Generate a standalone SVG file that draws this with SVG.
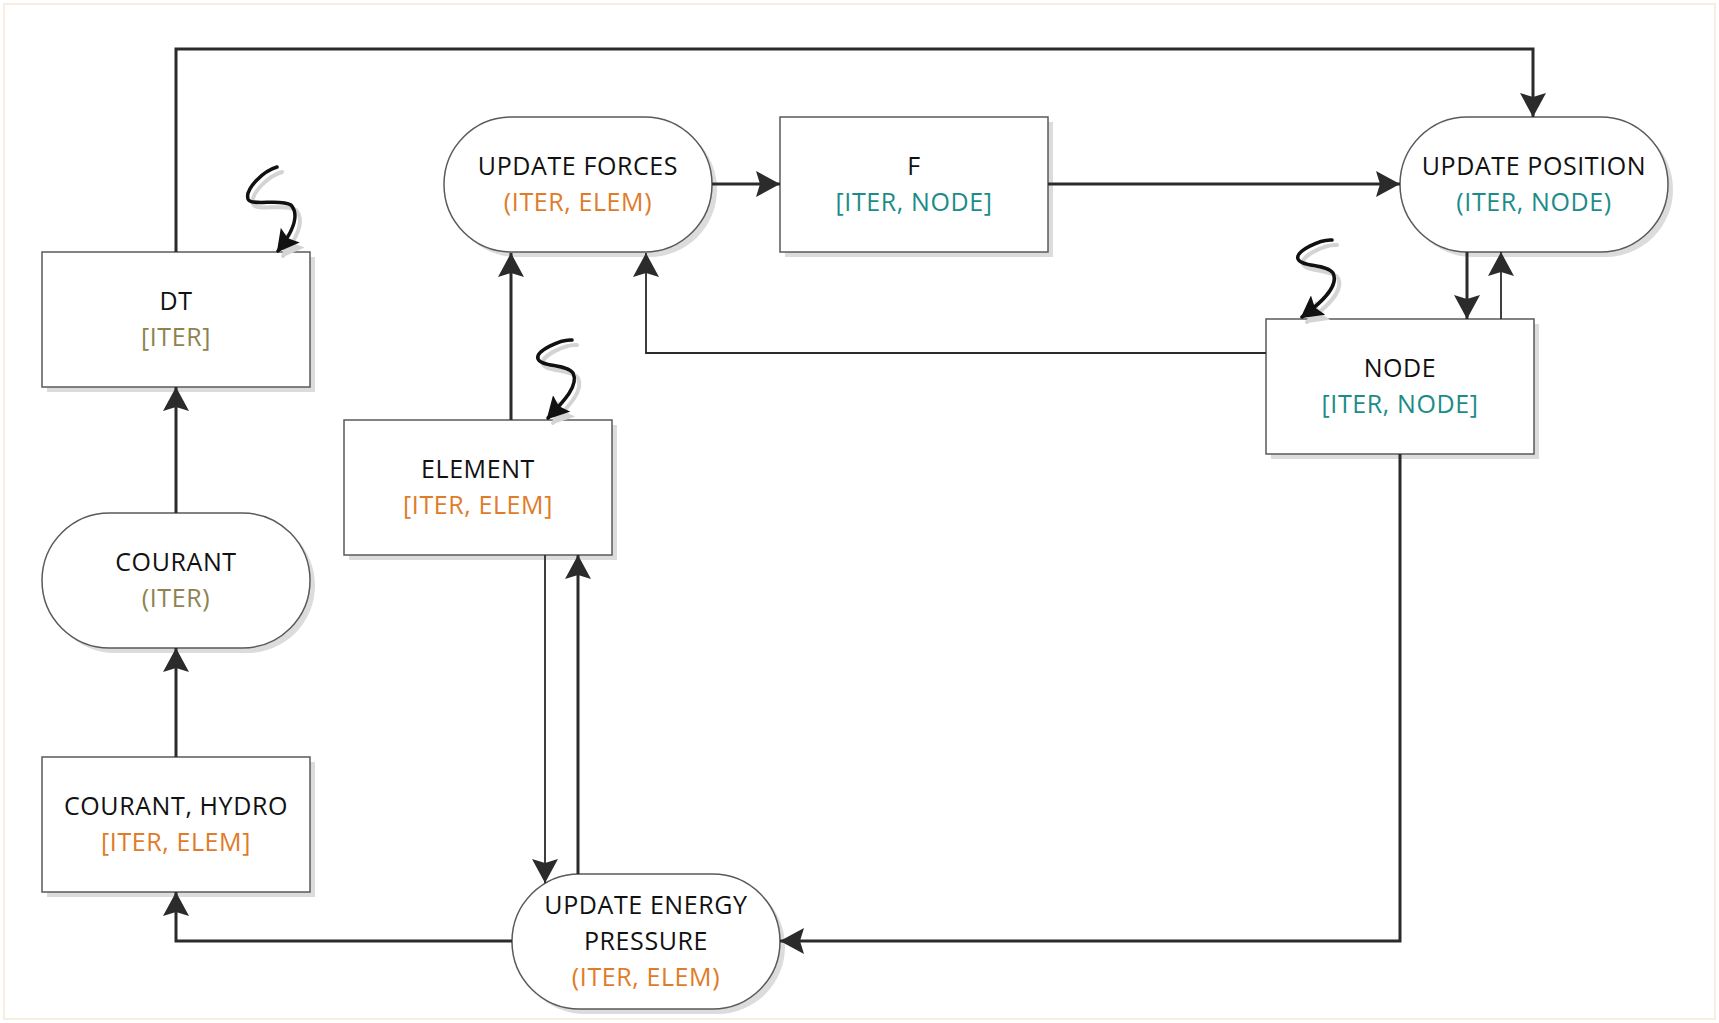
<svg xmlns="http://www.w3.org/2000/svg" width="1719" height="1023" viewBox="0 0 1719 1023">
<style>
  .box { fill:#ffffff; stroke:#5a5a5a; stroke-width:1.5; }
  .shadow { fill:#dcdcdc; stroke:none; }
  .t { font-family:"Open Sans","Noto Sans",sans-serif; font-size:25px; letter-spacing:0.6px; text-anchor:middle; fill:#111111; }
  .or { fill:#E07B28; }
  .te { fill:#1B8C89; }
  .ol { fill:#8E8350; }
  .thick { fill:none; stroke:#2b2b2b; stroke-width:3; }
  .thin { fill:none; stroke:#2b2b2b; stroke-width:1.8; }
  .sq { fill:none; stroke:#111111; stroke-width:3.5; stroke-linecap:round; }
  .sqs { fill:none; stroke:#d4d4d4; stroke-width:4; stroke-linecap:round; }
</style>
<defs>
  <marker id="arr" viewBox="0 0 24 26" refX="24" refY="13" markerWidth="24" markerHeight="26" markerUnits="userSpaceOnUse" orient="auto">
    <path d="M0,0 L24,13 L0,26 L4,13 z" fill="#2b2b2b"/>
  </marker>
  <marker id="sqa" viewBox="0 0 22 24" refX="20" refY="12" markerWidth="22" markerHeight="24" markerUnits="userSpaceOnUse" orient="auto">
    <path d="M0,0 L22,12 L0,24 L4,12 z" fill="#111111"/>
  </marker>
  <marker id="sqas" viewBox="0 0 22 24" refX="20" refY="12" markerWidth="22" markerHeight="24" markerUnits="userSpaceOnUse" orient="auto">
    <path d="M0,0 L22,12 L0,24 L4,12 z" fill="#d4d4d4"/>
  </marker>
</defs>
<rect x="0" y="0" width="1719" height="1023" fill="#ffffff"/>
<rect x="4" y="4" width="1711" height="1015" fill="none" stroke="#f6e7d5" stroke-width="1.5"/>

<g id="node-dt">
  <rect class="shadow" x="47" y="257" width="268" height="135"/>
  <rect class="box" x="42" y="252" width="268" height="135"/>
  <text class="t" x="176" y="310">DT</text>
  <text class="t ol" x="176" y="346">[ITER]</text>
</g>
<g id="node-courant">
  <rect class="shadow" x="47" y="518" width="268" height="135" rx="67.5"/>
  <rect class="box" x="42" y="513" width="268" height="135" rx="67.5"/>
  <text class="t" x="176" y="571">COURANT</text>
  <text class="t ol" x="176" y="607">(ITER)</text>
</g>
<g id="node-courant-hydro">
  <rect class="shadow" x="47" y="762" width="268" height="135"/>
  <rect class="box" x="42" y="757" width="268" height="135"/>
  <text class="t" x="176" y="815">COURANT, HYDRO</text>
  <text class="t or" x="176" y="851">[ITER, ELEM]</text>
</g>
<g id="node-update-forces">
  <rect class="shadow" x="449" y="122" width="268" height="135" rx="67.5"/>
  <rect class="box" x="444" y="117" width="268" height="135" rx="67.5"/>
  <text class="t" x="578" y="175">UPDATE FORCES</text>
  <text class="t or" x="578" y="211">(ITER, ELEM)</text>
</g>
<g id="node-f">
  <rect class="shadow" x="785" y="122" width="268" height="135"/>
  <rect class="box" x="780" y="117" width="268" height="135"/>
  <text class="t" x="914" y="175">F</text>
  <text class="t te" x="914" y="211">[ITER, NODE]</text>
</g>
<g id="node-update-position">
  <rect class="shadow" x="1405" y="122" width="268" height="135" rx="67.5"/>
  <rect class="box" x="1400" y="117" width="268" height="135" rx="67.5"/>
  <text class="t" x="1534" y="175">UPDATE POSITION</text>
  <text class="t te" x="1534" y="211">(ITER, NODE)</text>
</g>
<g id="node-node">
  <rect class="shadow" x="1271" y="324" width="268" height="135"/>
  <rect class="box" x="1266" y="319" width="268" height="135"/>
  <text class="t" x="1400" y="377">NODE</text>
  <text class="t te" x="1400" y="413">[ITER, NODE]</text>
</g>
<g id="node-element">
  <rect class="shadow" x="349" y="425" width="268" height="135"/>
  <rect class="box" x="344" y="420" width="268" height="135"/>
  <text class="t" x="478" y="478">ELEMENT</text>
  <text class="t or" x="478" y="514">[ITER, ELEM]</text>
</g>
<g id="node-update-energy">
  <rect class="shadow" x="517" y="879" width="268" height="135" rx="67.5"/>
  <rect class="box" x="512" y="874" width="268" height="135" rx="67.5"/>
  <text class="t" x="646" y="914">UPDATE ENERGY</text>
  <text class="t" x="646" y="950">PRESSURE</text>
  <text class="t or" x="646" y="986">(ITER, ELEM)</text>
</g>

<g id="connectors">
  <path class="thick" d="M176,252 V49 H1533 V117" marker-end="url(#arr)"/>
  <path class="thick" d="M176,513 V387" marker-end="url(#arr)"/>
  <path class="thick" d="M176,757 V648" marker-end="url(#arr)"/>
  <path class="thick" d="M512,941 H176 V892" marker-end="url(#arr)"/>
  <path class="thick" d="M1400,454 V941 H780" marker-end="url(#arr)"/>
  <path class="thick" d="M511,420 V253" marker-end="url(#arr)"/>
  <path class="thin" d="M1266,353 H646 V253" marker-end="url(#arr)"/>
  <path class="thick" d="M712,184 H780" marker-end="url(#arr)"/>
  <path class="thick" d="M1048,184 H1400" marker-end="url(#arr)"/>
  <path class="thick" d="M1467,252 V319" marker-end="url(#arr)"/>
  <path class="thin" d="M1501,319 V252" marker-end="url(#arr)"/>
  <path class="thin" d="M545,555 V883" marker-end="url(#arr)"/>
  <path class="thick" d="M578,874 V555" marker-end="url(#arr)"/>
  <g id="squiggle-dt">
    <path class="sqs" d="M282,172 C268,176 250,194 253,204 C256,212 285,203 296,210 C305,220 297,238 283,256" marker-end="url(#sqas)"/>
    <path class="sq" d="M277,167 C263,171 245,189 248,199 C251,207 280,198 291,205 C300,215 292,233 278,251" marker-end="url(#sqa)"/>
  </g>
  <g id="squiggle-element">
    <path class="sqs" d="M577,345 C566,344 540,356 543,364 C546,372 572,369 578,378 C584,390 570,405 553,423" marker-end="url(#sqas)"/>
    <path class="sq" d="M572,340 C561,339 535,351 538,359 C541,367 567,364 573,373 C579,385 565,400 548,418" marker-end="url(#sqa)"/>
  </g>
  <g id="squiggle-node">
    <path class="sqs" d="M1337,245 C1326,244 1300,256 1303,264 C1306,272 1332,269 1338,278 C1344,290 1330,305 1307,322" marker-end="url(#sqas)"/>
    <path class="sq" d="M1332,240 C1321,239 1295,251 1298,259 C1301,267 1327,264 1333,273 C1339,285 1325,300 1302,317" marker-end="url(#sqa)"/>
  </g>
</g>
</svg>
